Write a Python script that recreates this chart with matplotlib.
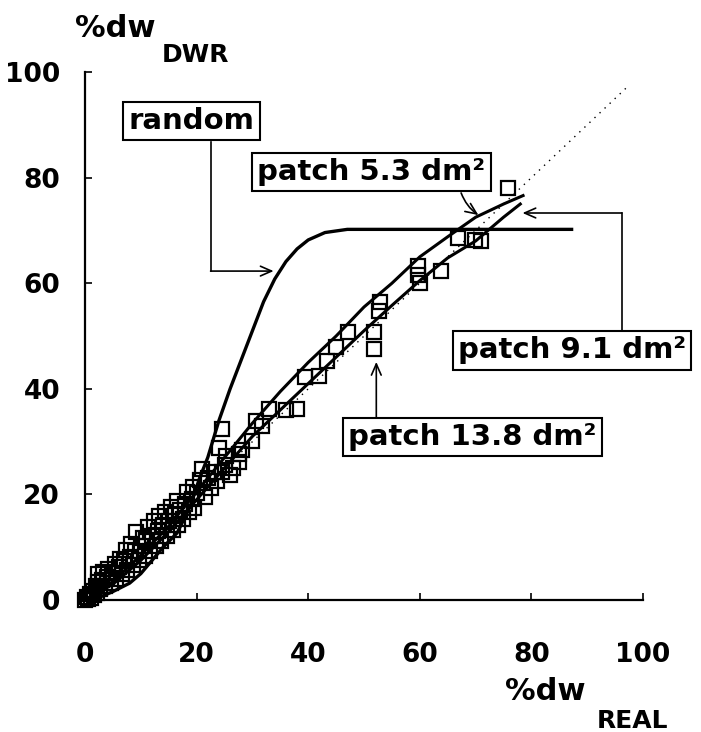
import numpy as np
import matplotlib
matplotlib.use('Agg')
import matplotlib.pyplot as plt

# measured points (%dw REAL vs %dw DWR)
pts_x = [0, 0.4, 0.6, 0.9, 1.1, 1.4, 1.6, 1.9, 2.1, 2.3, 2.4, 2.7, 3.0, 3.2, 3.5, 3.9, 4.2, 4.6,
         5.0, 5.3, 5.6, 6.0, 6.3, 6.6, 7.0, 7.3, 7.6, 8.0, 8.3, 8.6, 9.0, 9.1, 9.6, 10.0, 10.3,
         10.7, 11.0, 11.3, 11.7, 12.0, 12.3, 12.7, 13.0, 13.3, 13.7, 14.0, 14.4, 14.7, 15.0,
         15.4, 15.8, 16.1, 16.4, 16.7, 17.1, 17.6, 18.0, 18.2, 18.7, 19.1, 19.4, 19.6, 20.1,
         20.6, 21.0, 21.5, 22.0, 22.6, 23.1, 23.6, 24.0, 24.6, 24.6, 25.1, 25.3, 26.0, 26.5,
         27.6, 27.6, 28.2, 30.0, 30.7, 31.7, 33.0, 36.0, 38.0, 39.4, 41.9, 43.3, 45.0, 47.2,
         51.7, 51.7, 52.6, 52.9, 59.7, 59.7, 60.0, 63.8, 66.8, 69.9, 71.0, 75.8]
pts_y = [0, 0.6, 0.2, 1.2, 0.4, 1.8, 0.9, 2.6, 1.4, 3.4, 4.9, 2.0, 3.8, 5.3, 2.6, 4.3, 5.9, 3.3,
         5.2, 6.8, 4.0, 6.2, 7.8, 4.9, 7.3, 9.4, 5.7, 8.2, 10.6, 6.6, 9.2, 12.8, 7.6, 10.2, 11.8,
         8.3, 11.3, 13.8, 9.3, 12.2, 15.0, 10.2, 13.1, 15.9, 11.1, 14.2, 16.6, 12.1, 15.0,
         17.6, 13.2, 16.2, 18.7, 14.3, 17.0, 15.4, 18.1, 20.4, 16.6, 19.2, 21.4, 17.4, 20.2,
         22.7, 24.9, 19.6, 23.2, 21.2, 24.3, 22.6, 28.7, 32.4, 24.2, 25.6, 27.3, 23.7, 25.0,
         26.2, 27.7, 28.4, 30.2, 34.0, 33.0, 36.2, 35.9, 36.2, 42.3, 42.5, 45.2, 48.0, 50.8,
         50.8, 47.6, 54.8, 56.5, 63.2, 61.5, 60.0, 62.4, 68.5, 68.1, 68.0, 78.0]

# random distribution curve
rand_x = [0, 3, 5, 8, 10, 11.6, 14, 16.5, 18.8, 20.5, 22, 24, 26, 28, 30, 32, 34, 36, 38, 40,
          43, 47, 55, 70, 87.5]
rand_y = [0, 0.7, 1.6, 3.2, 5.0, 7.0, 10.0, 12.7, 17.6, 23, 27, 34, 40, 45.5, 51, 56.5,
          60.8, 64.1, 66.5, 68.2, 69.6, 70.2, 70.2, 70.2, 70.2]

# patch 5.3 dm2
p53_x = [0, 5, 10, 15, 20, 25, 30, 35, 40, 45, 50, 55, 60, 65, 70, 75, 78.5]
p53_y = [0, 3.5, 8.5, 14, 20.5, 27, 33.5, 39.5, 45, 50, 55.5, 60, 65, 68.8, 72.5, 75, 76.6]

# patch 9.1 dm2
p91_x = [0, 5, 10, 15, 20, 25, 30, 35, 40, 45, 50, 55, 60, 65, 70, 75, 78]
p91_y = [0, 3, 7.5, 13, 19, 25, 31, 36, 41, 46, 51, 55.8, 60.5, 64.8, 68, 72.5, 75]

# 1:1 line
diag_x = [0, 97]
diag_y = [0, 97]

xticks = [0, 20, 40, 60, 80, 100]
yticks = [0, 20, 40, 60, 80, 100]

fig = plt.figure(figsize=(7.01, 7.32), dpi=100)
ax = fig.add_axes([0.1213, 0.1803, 0.7960, 0.7213])

ax.plot(diag_x, diag_y, color='black', lw=1.0, ls=(0, (1, 4)))
ax.plot(rand_x, rand_y, color='black', lw=2.4, solid_capstyle='butt')
ax.plot(p53_x, p53_y, color='black', lw=2.2)
ax.plot(p91_x, p91_y, color='black', lw=2.2)
ax.plot(pts_x, pts_y, ls='none', marker='s', markersize=9.5, mfc='none',
        mec='black', mew=1.6, clip_on=False)

ax.set_xlim(0, 100)
ax.set_ylim(0, 100)
ax.spines['top'].set_visible(False)
ax.spines['right'].set_visible(False)
ax.spines['left'].set_linewidth(1.6)
ax.spines['bottom'].set_linewidth(1.6)
ax.set_xticks(xticks)
ax.set_yticks(yticks)
ax.tick_params(axis='both', direction='in', length=5, width=1.2, labelsize=19)
ax.tick_params(axis='x', pad=30)
ax.tick_params(axis='y', pad=18)
for lab in ax.get_xticklabels() + ax.get_yticklabels():
    lab.set_fontweight('bold')

# axis labels
fig.text(75 / 701, 1 - 37 / 732, '%dw', fontsize=22, fontweight='bold', ha='left', va='baseline')
fig.text(162 / 701, 1 - 62 / 732, 'DWR', fontsize=18, fontweight='bold', ha='left', va='baseline')
fig.text(505 / 701, 1 - 700 / 732, '%dw', fontsize=22, fontweight='bold', ha='left', va='baseline')
fig.text(597 / 701, 1 - 728 / 732, 'REAL', fontsize=18, fontweight='bold', ha='left', va='baseline')

# labelled boxes
box = dict(boxstyle='square,pad=0.18', fc='white', ec='black', lw=1.5)
ax.text(19.1, 90.7, 'random', fontsize=21, fontweight='bold', ha='center', va='center', bbox=box)
ax.text(51.3, 81.1, 'patch 5.3 dm²', fontsize=21, fontweight='bold', ha='center', va='center', bbox=box)
ax.text(87.3, 47.3, 'patch 9.1 dm²', fontsize=21, fontweight='bold', ha='center', va='center',
        bbox=box, clip_on=False)
ax.text(69.4, 30.9, 'patch 13.8 dm²', fontsize=21, fontweight='bold', ha='center', va='center', bbox=box)

# leader lines and arrows
arr = dict(arrowstyle='->,head_length=0.8,head_width=0.35', color='black', lw=1.2,
           shrinkA=0, shrinkB=0)
ax.plot([22.5, 22.5], [86.7, 62.3], color='black', lw=1.2)
ax.annotate('', xy=(33.8, 62.3), xytext=(22.5, 62.3), arrowprops=arr)
ax.plot([96.2, 96.2], [51.1, 73.3], color='black', lw=1.2, clip_on=False)
ax.annotate('', xy=(78.4, 73.3), xytext=(96.2, 73.3), arrowprops=arr)
ax.annotate('', xy=(52.2, 45.1), xytext=(52.2, 34.5), arrowprops=arr)
ax.annotate('', xy=(70.5, 72.9), xytext=(67.4, 77.1),
            arrowprops=dict(arr, connectionstyle='arc3,rad=0.15'))

fig.savefig('out.png', dpi=100)
